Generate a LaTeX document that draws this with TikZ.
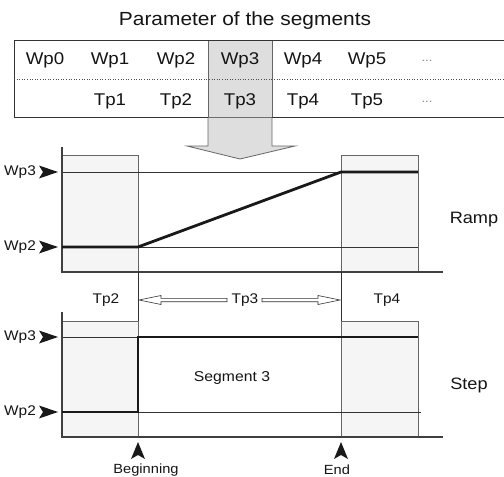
\documentclass[tikz,border=0pt]{standalone}
\usepackage{fontspec}
\setmainfont{Liberation Sans}[FakeStretch=1.1]
\begin{document}
\begin{tikzpicture}[x=1pt,y=-1pt,
  txt/.style={inner sep=0pt,text=black!92},
  tlabel/.style={txt,font=\fontsize{17}{19}\selectfont},
  slabel/.style={txt,font=\fontsize{14}{16}\selectfont},
  dots/.style={txt,text=black!45,font=\fontsize{12}{13}\selectfont},
  thinln/.style={line width=0.6pt,draw=black!80},
  axisln/.style={line width=1.1pt,draw=black!75},
  thickln/.style={line width=2.8pt,draw=black!90,line join=miter},
  graybox/.style={fill=black!4,draw=black!60,line width=0.8pt},
  marker/.style={fill=black!90,draw=none}
]
\useasboundingbox (0,0) rectangle (504,477);
% title
\node[txt,font=\fontsize{19}{21}\selectfont] (title) at (245,21) {Parameter of the segments};
% table
\fill[black!13] (208,40) rectangle (272,117);
\draw[line width=0.8pt,black!60] (208,40) -- (208,117) (272,40) -- (272,117);
\draw[line width=1pt,black!80] (504,40) -- (14,40) -- (14,117) -- (504,117);
\draw[line width=0.6pt,black!70,dotted] (14,79) -- (504,79);
\node[tlabel] (wp0) at (45,60) {Wp0};
\node[tlabel] (wp1) at (110,60) {Wp1};
\node[tlabel] (wp2) at (176,60) {Wp2};
\node[tlabel] (wp3) at (240,60) {Wp3};
\node[tlabel] (wp4) at (303,60) {Wp4};
\node[tlabel] (wp5) at (367,60) {Wp5};
\node[dots] (wpd) at (427,61) {...};
\node[tlabel] (tp1) at (110,101) {Tp1};
\node[tlabel] (tp2) at (176,101) {Tp2};
\node[tlabel] (tp3) at (240,101) {Tp3};
\node[tlabel] (tp4) at (303,101) {Tp4};
\node[tlabel] (tp5) at (367,101) {Tp5};
\node[dots] (tpd) at (427,102) {...};
% big arrow
\draw[fill=black!13,draw=black!60,line width=0.8pt,line join=miter]
  (208,117.5) -- (208,146) -- (187,146) -- (240,159) -- (295,146) -- (272,146) -- (272,117.5);
% ---------- Ramp chart ----------
\draw[graybox] (62,155) rectangle (138,272);
\draw[graybox] (341,155) rectangle (418,272);
\draw[thinln] (62,172) -- (418,172);
\draw[thinln] (62,247) -- (418,247);
\draw[axisln] (62,147) -- (62,272) -- (443,272);
\coordinate (r0) at (62,247);
\coordinate (r1) at (138,247);
\coordinate (r2) at (341,172);
\coordinate (r3) at (418,172);
\draw[thickln] (r0) -- (r1) -- (r2) -- (r3);
\node[slabel] (rw3) at (20,172) {Wp3};
\node[slabel] (rw2) at (20,247) {Wp2};
\fill[marker] (58,172) -- (39,165.5) -- (43,172) -- (39,178.5) -- cycle;
\fill[marker] (58,247) -- (39,240.5) -- (43,247) -- (39,253.5) -- cycle;
\node[txt,font=\fontsize{16.5}{18}\selectfont] (ramp) at (474,220) {Ramp};
% vertical guide lines
\draw[thinln] (138,272) -- (138,437);
\draw[thinln] (341,272) -- (341,437);
% Tp row
\node[slabel] (ctp2) at (106,300) {Tp2};
\node[slabel] (ctp3) at (245,300) {Tp3};
\node[slabel] (ctp4) at (387,300) {Tp4};
\draw[fill=white,draw=black!80,line width=0.6pt,line join=miter]
  (227,298.3) -- (161,298.3) -- (161,295.5) -- (139,300) -- (161,304.5) -- (161,301.7) -- (227,301.7) -- cycle;
\draw[fill=white,draw=black!80,line width=0.6pt,line join=miter]
  (262,298.3) -- (318,298.3) -- (318,295.5) -- (340,300) -- (318,304.5) -- (318,301.7) -- (262,301.7) -- cycle;
% ---------- Step chart ----------
\draw[graybox] (62,321) rectangle (138,437);
\draw[graybox] (341,321) rectangle (418,437);
\draw[thinln] (62,337) -- (418,337);
\draw[thinln] (62,412) -- (421,412);
\draw[axisln] (62,312) -- (62,437) -- (443,437);
\coordinate (s0) at (62,412);
\coordinate (s1) at (138,412);
\coordinate (s2) at (138,337);
\coordinate (s3) at (418,337);
\draw[thickln] (s0) -- (s1) -- (s2) -- (s3);
\node[slabel] (sw3) at (20,337) {Wp3};
\node[slabel] (sw2) at (20,412) {Wp2};
\fill[marker] (58,337) -- (39,330.5) -- (43,337) -- (39,343.5) -- cycle;
\fill[marker] (58,412) -- (39,405.5) -- (43,412) -- (39,418.5) -- cycle;
\node[txt,font=\fontsize{14.3}{16}\selectfont] (seg) at (232,378) {Segment 3};
\node[txt,font=\fontsize{16.5}{18}\selectfont] (step) at (469,385) {Step};
% bottom markers
\fill[marker] (138,442) -- (131,459) -- (138,455) -- (145,459) -- cycle;
\fill[marker] (341,442) -- (334,459) -- (341,455) -- (348,459) -- cycle;
\node[slabel,font=\fontsize{13.3}{15}\selectfont] (beg) at (146,470) {Beginning};
\node[slabel,font=\fontsize{13.3}{15}\selectfont] (end) at (337,469.5) {End};
\end{tikzpicture}
\end{document}
